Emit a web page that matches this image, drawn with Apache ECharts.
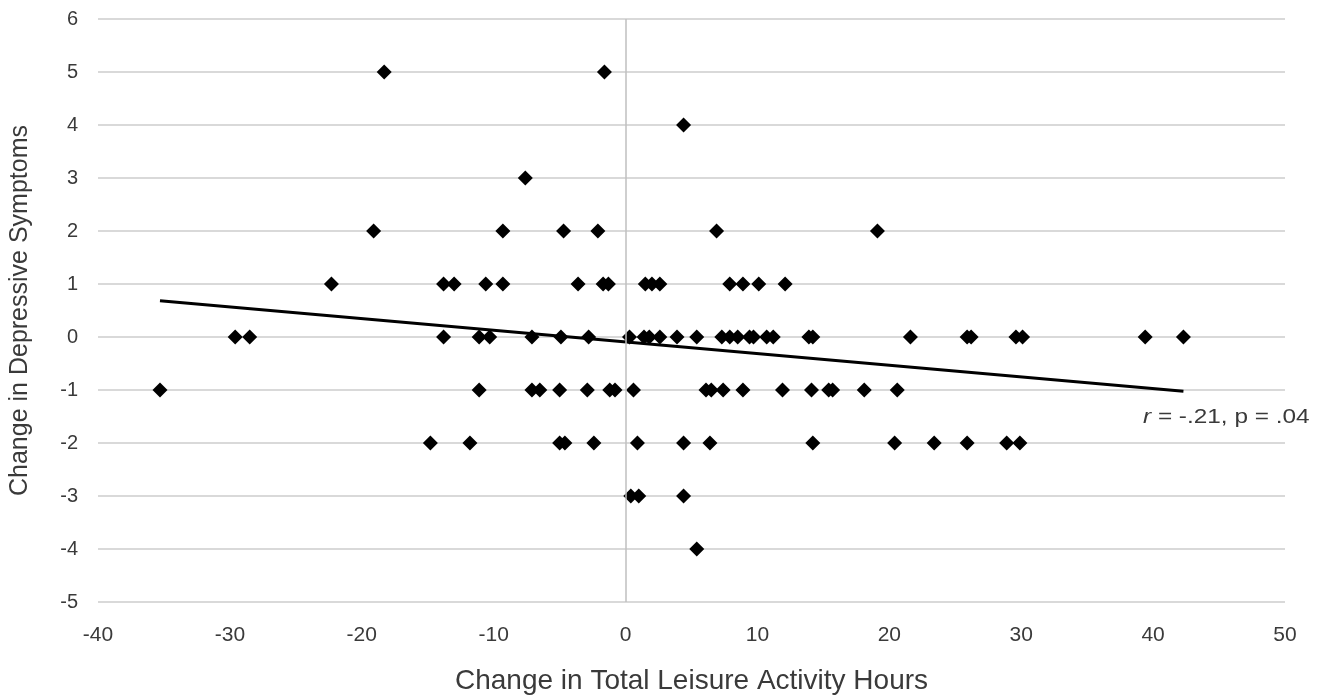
<!DOCTYPE html>
<html>
<head>
<meta charset="utf-8">
<script src="https://cdn.jsdelivr.net/npm/echarts@6/dist/echarts.min.js"></script>
<style>
	html, body { margin: 0; padding: 0; background: #fff; }
	#chart { width: 1334px; height: 700px; }
</style>
</head>
<body>
<div id="chart"></div>
<script>
// Data, one list of x values per y level
var levels = [5, 4, 3, 2, 1, 0, -1, -2, -3, -4];
var hoursByLevel = [
	[-18.3, -1.6],
	[4.4],
	[-7.6],
	[-19.1, -9.3, -4.7, -2.1, 6.9, 19.1],
	[-22.3, -13.8, -13.0, -10.6, -9.3, -3.6, -1.7, -1.3, 1.5, 2.0, 2.6, 7.9, 8.9, 10.1, 12.1],
	[-29.6, -28.5, -13.8, -11.1, -10.3, -7.1, -4.9, -2.8, 0.3, 1.4, 1.8, 2.6, 3.9, 5.4, 7.3, 7.9, 8.5, 9.4, 9.7, 10.7, 11.2, 13.9, 14.2, 21.6, 25.9, 26.2, 29.6, 30.1, 39.4, 42.3],
	[-35.3, -11.1, -7.1, -6.5, -5.0, -2.9, -1.2, -0.8, 0.6, 6.1, 6.5, 7.4, 8.9, 11.9, 14.1, 15.4, 15.7, 18.1, 20.6],
	[-14.8, -11.8, -5.0, -4.6, -2.4, 0.9, 4.4, 6.4, 14.2, 20.4, 23.4, 25.9, 28.9, 29.9],
	[0.4, 1.0, 4.4],
	[5.4]
];
var xTitle = 'Change in Total Leisure Activity Hours';
var yTitle = 'Change in Depressive Symptoms';

var textColor = '#3a3a3a';
var font = '"Liberation Sans", Arial, sans-serif';

function BuildPoints() {	// flattens levels into [x, y] pairs
	let pts = [];
	for (let i = 0; i < levels.length; i++) {
		for (let j = 0; j < hoursByLevel[i].length; j++) {
			pts.push([hoursByLevel[i][j], levels[i]]);
		}
	}
	return pts;
}
function LinearFit(pts) {	// least squares line over the range of x
	let n = pts.length, sx = 0, sy = 0, sxx = 0, sxy = 0;
	let minX = Infinity, maxX = -Infinity;
	for (let i = 0; i < n; i++) {
		let x = pts[i][0], y = pts[i][1];
		sx += x; sy += y; sxx += x * x; sxy += x * y;
		if (x < minX) minX = x;
		if (x > maxX) maxX = x;
	}
	let b = (n * sxy - sx * sy) / (n * sxx - sx * sx);
	let a = (sy - b * sx) / n;
	return [[minX, a + b * minX], [maxX, a + b * maxX]];
}

var points = BuildPoints();
var trend = LinearFit(points);

var chart = echarts.init(document.getElementById('chart'), '', { renderer: 'canvas' });
chart.setOption({
	backgroundColor: '#fff',
	animation: false,
	grid: { left: 98, right: 49, top: 19, bottom: 97 },
	xAxis: {
		type: 'value',
		min: -40, max: 50, interval: 10,
		name: xTitle,
		nameLocation: 'middle',
		nameGap: 65,
		nameTextStyle: { color: textColor, fontSize: 28, fontFamily: font },
		axisLine: { show: false },
		axisTick: { show: false },
		splitLine: { show: false },
		axisLabel: { color: textColor, fontSize: 21, fontFamily: font, margin: 23 }
	},
	yAxis: {
		type: 'value',
		min: -5, max: 6, interval: 1,
		name: yTitle,
		nameLocation: 'middle',
		nameGap: 65,
		nameTextStyle: { color: textColor, fontSize: 25, fontFamily: font },
		axisLine: { show: false },
		axisTick: { show: false },
		splitLine: { lineStyle: { color: '#cccccc', width: 1.5 } },
		axisLabel: { color: textColor, fontSize: 20, fontFamily: font, margin: 20 }
	},
	series: [{
		type: 'line',
		data: trend,
		symbol: 'none',
		silent: true,
		z: 3,
		lineStyle: { color: '#000', width: 3 },
		markLine: {
			silent: true,
			symbol: 'none',
			label: { show: false },
			lineStyle: { color: '#bfbfbf', width: 1.5, type: 'solid' },
			data: [{ xAxis: 0 }]
		}
	}, {
		type: 'scatter',
		data: points,
		symbol: 'diamond',
		symbolSize: 15,
		z: 4,
		itemStyle: { color: '#000', opacity: 1 }
	}],
	graphic: [{
		type: 'text',
		left: 1143,
		top: 407,
		scaleX: 1.16,
		style: {
			text: '{i|r} = -.21, p = .04',
			fill: textColor,
			font: '21px ' + font,
			rich: {
				i: { fontStyle: 'italic', fontSize: 21, fontFamily: font, fill: textColor }
			}
		}
	}]
});
</script>
</body>
</html>
